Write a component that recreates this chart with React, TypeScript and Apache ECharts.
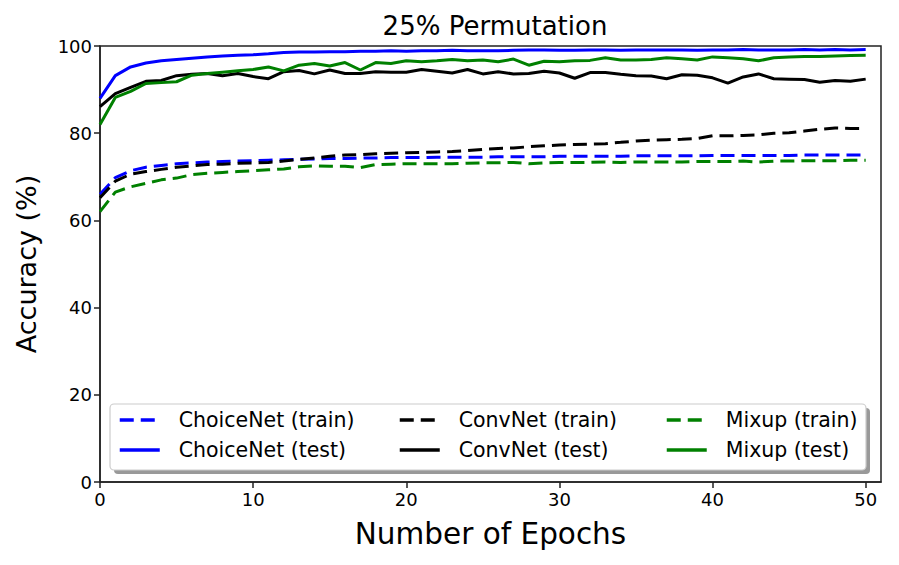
import React, { useEffect, useRef } from "react";
import * as echarts from "echarts";

const epochs: number[] = Array.from({ length: 51 }, (_, i) => i);

const choiceTrain = [66.0, 69.8, 71.4, 72.2, 72.6, 73.0, 73.2, 73.4, 73.5, 73.6, 73.7, 73.8, 73.9, 74.0, 74.1, 74.2, 74.2, 74.3, 74.3, 74.4, 74.4, 74.4, 74.5, 74.5, 74.5, 74.5, 74.6, 74.6, 74.6, 74.6, 74.7, 74.7, 74.7, 74.7, 74.7, 74.8, 74.8, 74.8, 74.8, 74.8, 74.9, 74.9, 74.9, 74.9, 74.9, 74.9, 75.0, 75.0, 75.0, 75.0, 75.0];
const choiceTest = [88.0, 93.2, 95.2, 96.1, 96.6, 96.9, 97.2, 97.5, 97.7, 97.9, 98.0, 98.2, 98.5, 98.6, 98.6, 98.7, 98.7, 98.8, 98.8, 98.9, 98.8, 98.9, 98.9, 99.0, 98.9, 98.9, 98.9, 99.0, 99.1, 99.1, 99.0, 99.0, 99.1, 99.1, 99.0, 99.1, 99.1, 99.1, 99.1, 99.0, 99.1, 99.1, 99.2, 99.1, 99.1, 99.1, 99.2, 99.1, 99.2, 99.1, 99.2];
const convTrain = [65.2, 69.0, 70.6, 71.2, 71.7, 72.2, 72.5, 72.8, 72.9, 73.1, 73.2, 73.3, 73.6, 74.0, 74.3, 74.7, 75.0, 75.1, 75.3, 75.4, 75.5, 75.6, 75.7, 75.8, 76.0, 76.3, 76.5, 76.6, 76.9, 77.1, 77.3, 77.4, 77.5, 77.6, 77.9, 78.2, 78.4, 78.5, 78.6, 78.8, 79.4, 79.4, 79.5, 79.6, 80.0, 80.1, 80.5, 80.9, 81.2, 81.1, 81.1];
const convTest = [86.1, 89.1, 90.5, 91.9, 92.1, 93.2, 93.5, 93.7, 93.2, 93.7, 93.0, 92.5, 94.1, 94.4, 93.6, 94.5, 93.7, 93.7, 94.1, 94.0, 94.0, 94.6, 94.2, 93.8, 94.6, 93.6, 94.1, 93.6, 93.7, 94.2, 93.8, 92.6, 93.9, 93.9, 93.5, 93.2, 93.1, 92.5, 93.4, 93.3, 92.7, 91.5, 92.9, 93.6, 92.5, 92.4, 92.3, 91.7, 92.1, 91.9, 92.4];
const mixTrain = [62.0, 66.5, 67.7, 68.5, 69.3, 69.7, 70.5, 70.8, 71.0, 71.2, 71.4, 71.6, 71.8, 72.3, 72.5, 72.4, 72.4, 72.1, 72.8, 72.9, 73.0, 73.0, 73.0, 73.0, 73.1, 73.2, 73.2, 73.3, 73.0, 73.2, 73.3, 73.3, 73.3, 73.4, 73.3, 73.4, 73.4, 73.4, 73.4, 73.5, 73.5, 73.5, 73.6, 73.4, 73.6, 73.6, 73.7, 73.7, 73.7, 73.8, 73.8];
const mixTest = [82.0, 88.2, 89.6, 91.4, 91.6, 91.8, 93.3, 93.7, 94.0, 94.3, 94.6, 95.2, 94.3, 95.6, 96.0, 95.4, 96.2, 94.5, 96.2, 96.0, 96.6, 96.4, 96.6, 96.9, 96.6, 96.8, 96.4, 97.0, 95.6, 96.5, 96.4, 96.6, 96.7, 97.3, 96.8, 96.8, 96.9, 97.3, 97.1, 96.8, 97.5, 97.3, 97.1, 96.6, 97.3, 97.5, 97.6, 97.6, 97.7, 97.8, 97.9];

const xTicks = [0, 10, 20, 30, 40, 50];
const yTicks = [0, 20, 40, 60, 80, 100];

const FONT = "DejaVu Sans";

export default function App() {
  const ref = useRef<HTMLDivElement>(null);
  useEffect(() => {
    document.body.style.margin = "0";
    const chart = echarts.init(ref.current!, null, { renderer: "svg" });
    const mk = (name: string, data: number[], color: string, dashed: boolean) => ({
      name,
      type: "line",
      data: data.map((v, i) => [epochs[i], v]),
      showSymbol: false,
      symbol: "none",
      z: 3,
      lineStyle: { color, width: 3, type: dashed ? [14, 7] : "solid" },
      itemStyle: { color },
    });
    const legendCommon = {
      orient: "vertical",
      top: 409,
      padding: 0,
      itemGap: 8,
      itemWidth: 40,
      itemHeight: 14,
      z: 10,
      itemStyle: { opacity: 0, borderWidth: 0 },
      lineStyle: { width: 3.5 },
      textStyle: { fontFamily: FONT, fontSize: 20.5, color: "#000", padding: [0, 0, 0, 14], lineHeight: 22 },
    };
    chart.setOption({
      animation: false,
      title: {
        text: "25% Permutation",
        left: 490,
        textAlign: "center",
        top: 8,
        textStyle: { fontFamily: FONT, fontSize: 26, fontWeight: "normal", color: "#000" },
      },
      grid: { left: 100, right: 18, top: 46, bottom: 83, show: true, borderColor: "#222", borderWidth: 1.5, backgroundColor: "transparent" },
      xAxis: {
        type: "value",
        min: 0,
        max: 51,
        interval: 10,
        name: "Number of Epochs",
        nameLocation: "middle",
        nameGap: 37,
        nameTextStyle: { fontFamily: FONT, fontSize: 29.5, color: "#000" },
        axisLine: { show: true, lineStyle: { color: "#222", width: 1.5 } },
        axisTick: { show: true, length: 6, customValues: xTicks, lineStyle: { color: "#222", width: 1.5 } },
        axisLabel: { customValues: xTicks, fontFamily: FONT, fontSize: 18, color: "#000", margin: 8 },
        splitLine: { show: false },
      },
      yAxis: {
        type: "value",
        min: 0,
        max: 100,
        interval: 20,
        name: "Accuracy (%)",
        nameLocation: "middle",
        nameGap: 60,
        nameTextStyle: { fontFamily: FONT, fontSize: 27, color: "#000" },
        axisLine: { show: true, lineStyle: { color: "#222", width: 1.5 } },
        axisTick: { show: true, length: 6, customValues: yTicks, lineStyle: { color: "#222", width: 1.5 } },
        axisLabel: { customValues: yTicks, fontFamily: FONT, fontSize: 18, color: "#000", margin: 8 },
        splitLine: { show: false },
      },
      legend: [
        { ...legendCommon, left: 118, data: ["ChoiceNet (train)", "ChoiceNet (test)"] },
        { ...legendCommon, left: 398, data: ["ConvNet (train)", "ConvNet (test)"] },
        { ...legendCommon, left: 665, data: ["Mixup (train)", "Mixup (test)"] },
      ],
      graphic: [
        { type: "rect", z: 5, shape: { x: 114, y: 408, width: 756, height: 66, r: 4 }, style: { fill: "#999" } },
        { type: "rect", z: 6, shape: { x: 110, y: 404, width: 756, height: 66, r: 4 }, style: { fill: "#fff", stroke: "#ccc", lineWidth: 1.2 } },
      ],
      series: [
        mk("ChoiceNet (train)", choiceTrain, "#0000ff", true),
        mk("ChoiceNet (test)", choiceTest, "#0000ff", false),
        mk("ConvNet (train)", convTrain, "#000000", true),
        mk("ConvNet (test)", convTest, "#000000", false),
        mk("Mixup (train)", mixTrain, "#008000", true),
        mk("Mixup (test)", mixTest, "#008000", false),
      ],
    });
    return () => chart.dispose();
  }, []);
  return <div ref={ref} style={{ width: 899, height: 565 }} />;
}
